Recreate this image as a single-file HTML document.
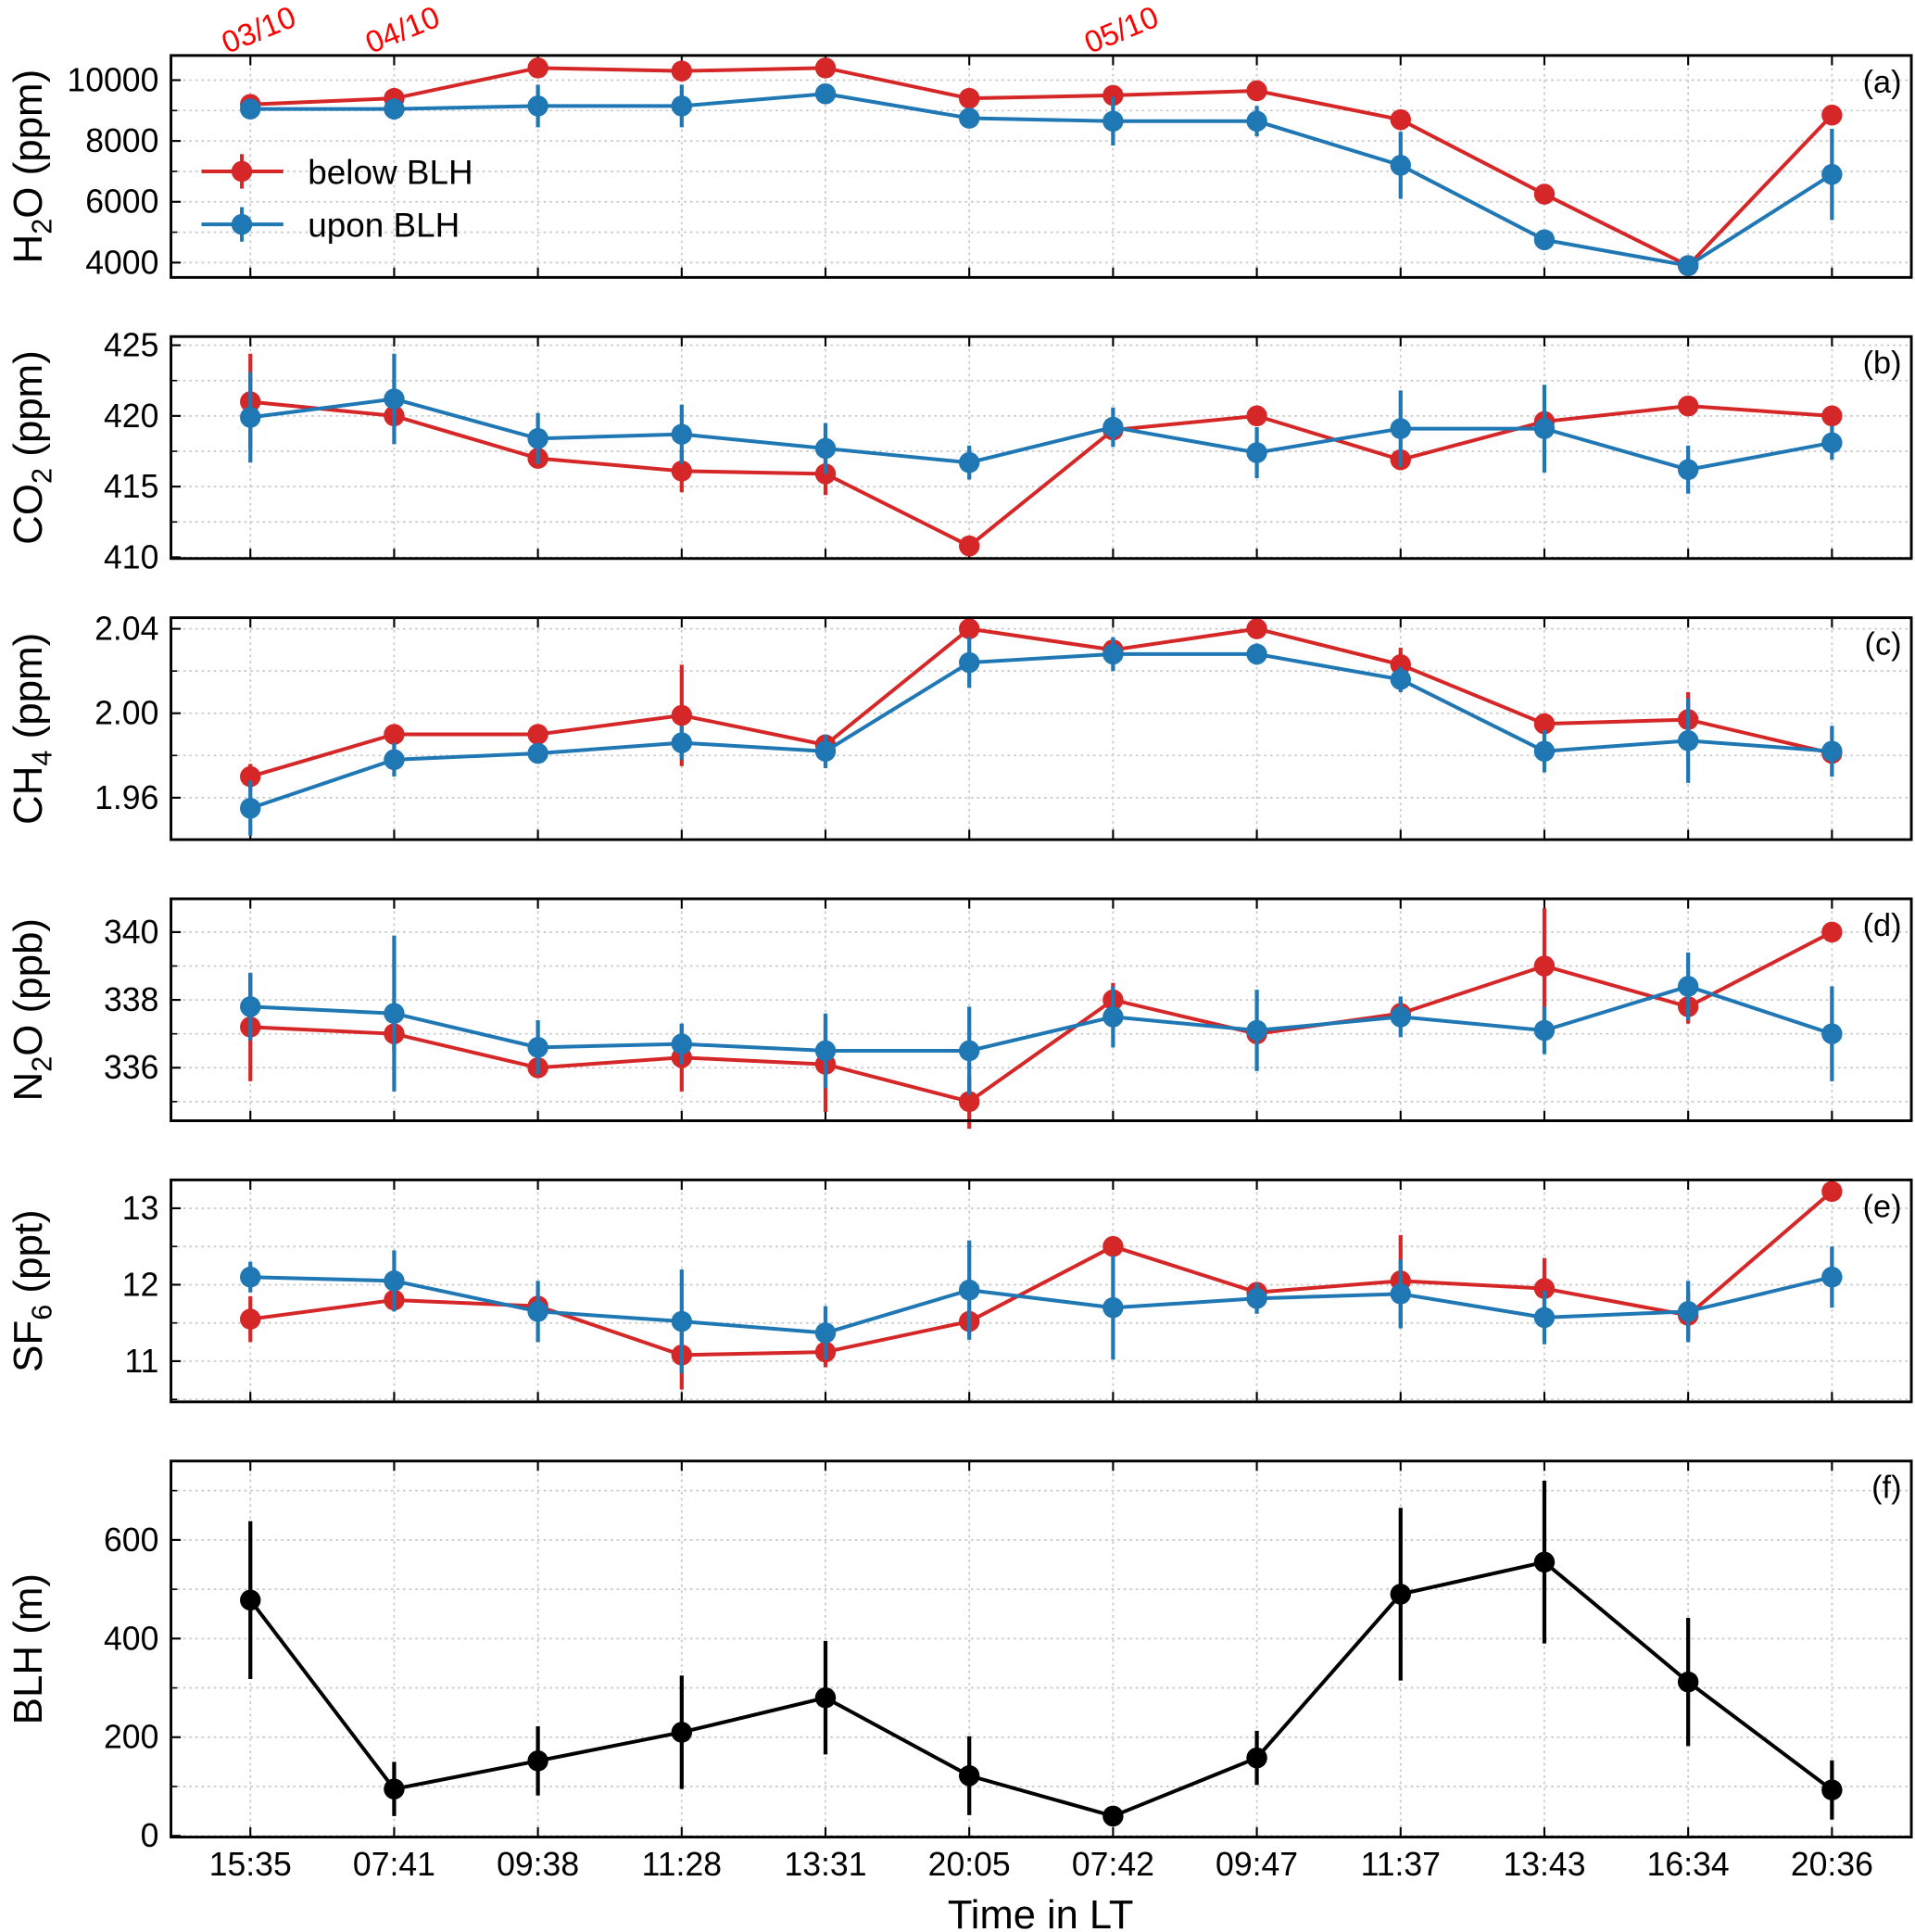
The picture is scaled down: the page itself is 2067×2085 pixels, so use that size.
<!DOCTYPE html>
<html><head><meta charset="utf-8"><style>
html,body{margin:0;padding:0;background:#fff}
svg{display:block;font-family:"Liberation Sans",Arial,sans-serif}
</style></head><body>
<svg id="chart" width="2067" height="2085" viewBox="0 2 1568 1567" preserveAspectRatio="none" xmlns="http://www.w3.org/2000/svg"></svg>
<script>
const categories=["15:35","07:41","09:38","11:28","13:31","20:05","07:42","09:47","11:37","13:43","16:34","20:36"];
const dateLabels=[{i:0,t:"03/10"},{i:1,t:"04/10"},{i:6,t:"05/10"}];
const h2oBelow=[9200,9400,10400,10300,10400,9400,9500,9650,8700,6250,3900,8850];
const h2oBelowErr=[150,150,150,150,100,150,150,150,100,150,100,150];
const h2oUpon=[9050,9050,9150,9150,9550,8750,8650,8650,7200,4750,3900,6900];
const h2oUponErr=[150,350,700,700,150,150,800,500,1100,150,100,1500];
const co2Below=[421,420,417,416.1,415.9,410.8,419,420,416.9,419.6,420.7,420];
const co2BelowErr=[3.4,0.5,0.5,1.5,1.5,0.3,0.6,0.4,0.4,0.5,0.4,0.4];
const co2Upon=[419.9,421.2,418.4,418.7,417.7,416.7,419.2,417.4,419.1,419.1,416.2,418.1];
const co2UponErr=[3.2,3.2,1.8,2.1,1.8,1.2,1.4,1.8,2.7,3.1,1.7,1.2];
const ch4Below=[1.970,1.990,1.990,1.999,1.985,2.040,2.030,2.040,2.023,1.995,1.997,1.981];
const ch4BelowErr=[0.006,0.003,0.003,0.024,0.003,0.003,0.005,0.003,0.008,0.005,0.013,0.005];
const ch4Upon=[1.955,1.978,1.981,1.986,1.982,2.024,2.028,2.028,2.016,1.982,1.987,1.982];
const ch4UponErr=[0.013,0.008,0.004,0.008,0.008,0.012,0.008,0.005,0.006,0.010,0.020,0.012];
const n2oBelow=[337.2,337.0,336.0,336.3,336.1,335.0,338.0,337.0,337.6,339.0,337.8,340.0];
const n2oBelowErr=[1.6,0.5,0.2,1.0,1.4,0.8,0.5,0.3,0.4,1.7,0.5,0.1];
const n2oUpon=[337.8,337.6,336.6,336.7,336.5,336.5,337.5,337.1,337.5,337.1,338.4,337.0];
const n2oUponErr=[1.0,2.3,0.8,0.6,1.1,1.3,0.9,1.2,0.6,0.7,1.0,1.4];
const sf6Below=[11.55,11.8,11.72,11.08,11.12,11.52,12.5,11.9,12.05,11.95,11.6,13.22];
const sf6BelowErr=[0.3,0.1,0.1,0.45,0.2,0.15,0.1,0.1,0.6,0.4,0.3,0.05];
const sf6Upon=[12.1,12.05,11.65,11.52,11.37,11.93,11.7,11.82,11.88,11.57,11.65,12.1];
const sf6UponErr=[0.2,0.4,0.4,0.68,0.35,0.65,0.68,0.2,0.45,0.35,0.4,0.4];
const blh=[478,95,152,210,280,122,40,158,490,555,312,93];
const blhErr=[160,55,70,115,115,80,5,55,175,165,130,60];

const NS="http://www.w3.org/2000/svg";
const svg=document.getElementById('chart');
const L=140,R=1565;
const RED="#d62728",BLUE="#1f77b4";
function xPos(i){return 205+i*(1500-205)/11;}
function mk(tag,attrs,parent){const e=document.createElementNS(NS,tag);for(const k in attrs)e.setAttribute(k,attrs[k]);(parent||svg).appendChild(e);return e;}

const panels=[
 {id:"h2o",top:47,bot:227,v0:10000,p0:67,v1:4000,p1:215,ticks:[4000,6000,8000,10000],minor:[5000,7000,9000],fmt:v=>String(v),lab:"(a)",ylab:["H","2","O (ppm)"],series:[[h2oBelow,h2oBelowErr,RED,"below"],[h2oUpon,h2oUponErr,BLUE,"upon"]]},
 {id:"co2",top:275,bot:455,v0:425,p0:282,v1:410,p1:454,ticks:[410,415,420,425],minor:[412.5,417.5,422.5],fmt:v=>String(v),lab:"(b)",ylab:["CO","2"," (ppm)"],series:[[co2Below,co2BelowErr,RED,"below"],[co2Upon,co2UponErr,BLUE,"upon"]]},
 {id:"ch4",top:503,bot:683,v0:2.04,p0:512,v1:1.96,p1:649,ticks:[1.96,2.00,2.04],minor:[1.98,2.02,1.94],fmt:v=>v.toFixed(2),lab:"(c)",ylab:["CH","4"," (ppm)"],series:[[ch4Below,ch4BelowErr,RED,"below"],[ch4Upon,ch4UponErr,BLUE,"upon"]]},
 {id:"n2o",top:731,bot:911,v0:340,p0:758,v1:336,p1:868,ticks:[336,338,340],minor:[335,337,339],fmt:v=>String(v),lab:"(d)",ylab:["N","2","O (ppb)"],series:[[n2oBelow,n2oBelowErr,RED,"below"],[n2oUpon,n2oUponErr,BLUE,"upon"]]},
 {id:"sf6",top:959,bot:1139,v0:13,p0:982,v1:11,p1:1106,ticks:[11,12,13],minor:[11.5,12.5,10.5],fmt:v=>String(v),lab:"(e)",ylab:["SF","6"," (ppt)"],series:[[sf6Below,sf6BelowErr,RED,"below"],[sf6Upon,sf6UponErr,BLUE,"upon"]]},
 {id:"blh",top:1187,bot:1492,v0:600,p0:1251,v1:0,p1:1491,ticks:[0,200,400,600],minor:[100,300,500,700],fmt:v=>String(v),lab:"(f)",ylab:["BLH (m)"],series:[[blh,blhErr,"#000","blh"]]}
];

panels.forEach(p=>{
 const y=v=>p.p0+(v-p.v0)*(p.p1-p.p0)/(p.v1-p.v0);
 const g=mk('g',{});
 
 
 categories.forEach((c,i)=>{const l=mk('line',{x1:xPos(i),x2:xPos(i),y1:p.top,y2:p.bot,stroke:"#c8c8c8","stroke-width":1.3,"stroke-dasharray":"2,3"},g);
  });
 p.ticks.concat(p.minor).forEach(v=>{const yy=y(v);if(yy<p.top||yy>p.bot)return;
  const l=mk('line',{x1:L,x2:R,y1:yy,y2:yy,stroke:"#c8c8c8","stroke-width":1.3,"stroke-dasharray":"2,3"},g);
  });
 categories.forEach((c,i)=>{mk('line',{x1:xPos(i),x2:xPos(i),y1:p.bot,y2:p.bot-8,stroke:"#000","stroke-width":1.6},g);mk('line',{x1:xPos(i),x2:xPos(i),y1:p.top,y2:p.top+8,stroke:"#000","stroke-width":1.6},g);});
 p.ticks.forEach(v=>{const yy=y(v);mk('line',{x1:L,x2:L+8,y1:yy,y2:yy,stroke:"#000","stroke-width":1.6},g);
  const t=mk('text',{x:L-10,y:yy+9,"text-anchor":"end","font-size":27,fill:"#000"},g);t.textContent=p.fmt(v);
  });
 p.minor.forEach(v=>{const yy=y(v);if(yy<p.top||yy>p.bot)return;mk('line',{x1:L,x2:L+5,y1:yy,y2:yy,stroke:"#000","stroke-width":1.2},g);});
 p.series.forEach(([vals,errs,col,nm])=>{
  const sg=mk('g',{},g);
  
  
  vals.forEach((v,i)=>{mk('line',{x1:xPos(i),x2:xPos(i),y1:y(v-errs[i]),y2:y(v+errs[i]),stroke:col,"stroke-width":3.2},sg);});
  const pts=vals.map((v,i)=>xPos(i)+","+y(v)).join(" ");
  mk('polyline',{points:pts,fill:"none",stroke:col,"stroke-width":3},sg);
  vals.forEach((v,i)=>{const c=mk('circle',{cx:xPos(i),cy:y(v),r:8.5,fill:col},sg);
   });
 });
 mk('rect',{x:L,y:p.top,width:R-L,height:p.bot-p.top,fill:"none",stroke:"#000","stroke-width":2.2},g);
 const pl=mk('text',{x:R-8,y:p.top+30,"text-anchor":"end","font-size":26},g);pl.textContent=p.lab;
 
 const cy=(p.top+p.bot)/2;
 const yl=mk('text',{x:0,y:0,"text-anchor":"middle","font-size":33,transform:`translate(34,${cy}) rotate(-90)`},g);
 
 if(p.ylab.length===1){yl.textContent=p.ylab[0];}
 else{const a=mk('tspan',{},yl);a.textContent=p.ylab[0];const b=mk('tspan',{dy:8,"font-size":23},yl);b.textContent=p.ylab[1];const c=mk('tspan',{dy:-8},yl);c.textContent=p.ylab[2];}
});

categories.forEach((c,i)=>{const t=mk('text',{x:xPos(i),y:1523,"text-anchor":"middle","font-size":27});t.textContent=c;
 });
const xt=mk('text',{x:852,y:1566,"text-anchor":"middle","font-size":33});xt.textContent="Time in LT";

dateLabels.forEach(d=>{const x=xPos(d.i)+10,yy=34;const t=mk('text',{x:x,y:yy,"text-anchor":"middle","font-size":25,fill:"#ff0000",transform:`rotate(-22 ${x} ${yy})`});t.textContent=d.t;
 });

const lg=mk('g',{});


[["below BLH",RED,141],["upon BLH",BLUE,184]].forEach(([t,c,yy])=>{
 const e=mk('g',{},lg);
 
 
 mk('line',{x1:165,x2:232,y1:yy,y2:yy,stroke:c,"stroke-width":3},e);
 mk('line',{x1:198,x2:198,y1:yy-14,y2:yy+14,stroke:c,"stroke-width":3},e);
 mk('circle',{cx:198,cy:yy,r:8.5,fill:c},e);
 const tx=mk('text',{x:252,y:yy+10,"font-size":28},e);tx.textContent=t;
});
</script>
</body></html>
